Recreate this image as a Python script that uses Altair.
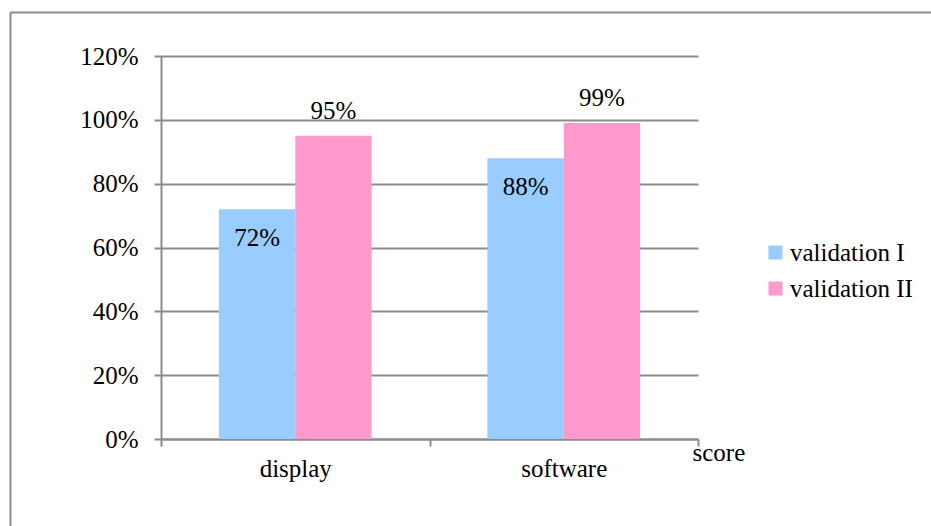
import altair as alt
import pandas as pd

categories = ["display", "display", "software", "software"]
series = ["validation I", "validation II", "validation I", "validation II"]
values = [0.72, 0.95, 0.88, 0.99]
y_ticks = [0, 0.2, 0.4, 0.6, 0.8, 1.0, 1.2]
series_order = ["validation I", "validation II"]
series_colors = ["#99CCFF", "#FF99CC"]

df = pd.DataFrame({"category": categories, "series": series, "value": values})

FONT = "Liberation Serif"
FS = 25
GRAY = "#8c8c8c"

x_enc = alt.X(
    "category:N",
    sort=["display", "software"],
    scale=alt.Scale(paddingInner=0, paddingOuter=0),
    axis=alt.Axis(
        title="score", labelAngle=0, tickBand="extent", tickSize=7, tickColor=GRAY,
        tickWidth=2, domainColor=GRAY, domainWidth=2, labelPadding=10,
        labelFont=FONT, labelFontSize=FS, labelColor="black",
        titleFont=FONT, titleFontSize=FS, titleFontWeight="normal", titleColor="black",
        titleX=531, titleY=21, titleAlign="left", titleBaseline="alphabetic",
        titleAnchor="start",
    ),
)
xo_scale = alt.Scale(paddingInner=0, paddingOuter=0.758)
y_enc = alt.Y(
    "value:Q",
    scale=alt.Scale(domain=[0, 1.2], nice=False, zero=True),
    axis=alt.Axis(
        title=None, values=y_ticks, format=".0%", grid=True, gridColor=GRAY,
        gridWidth=2, tickColor=GRAY, tickWidth=2, tickSize=7, domainColor=GRAY,
        domainWidth=2, labelPadding=16, labelFont=FONT, labelFontSize=FS,
        labelColor="black",
    ),
)

bars = alt.Chart(df).mark_bar().encode(
    x=x_enc,
    xOffset=alt.XOffset("series:N", sort=series_order, scale=xo_scale),
    y=y_enc,
    color=alt.Color(
        "series:N",
        scale=alt.Scale(domain=series_order, range=series_colors),
        legend=alt.Legend(
            title=None, orient="none", legendX=602, legendY=184,
            symbolType="square", symbolSize=196, symbolStrokeWidth=0,
            labelFont=FONT, labelFontSize=FS, labelColor="black",
            labelOffset=2, rowPadding=10, padding=0,
        ),
    ),
)

lab1 = alt.Chart(df).transform_filter(alt.datum.series == "validation I").mark_text(
    font=FONT, fontSize=FS, baseline="alphabetic", dy=37, color="black"
).encode(
    x=alt.X("category:N", sort=["display", "software"]),
    xOffset=alt.XOffset("series:N", sort=series_order, scale=xo_scale),
    y="value:Q",
    text=alt.Text("value:Q", format=".0%"),
)
lab2 = alt.Chart(df).transform_filter(alt.datum.series == "validation II").mark_text(
    font=FONT, fontSize=FS, baseline="alphabetic", dy=-17, color="black"
).encode(
    x=alt.X("category:N", sort=["display", "software"]),
    xOffset=alt.XOffset("series:N", sort=series_order, scale=xo_scale),
    y="value:Q",
    text=alt.Text("value:Q", format=".0%"),
)

one = pd.DataFrame({"a": [0]})
border_left = alt.Chart(one).mark_rule(color=GRAY, strokeWidth=2).encode(
    x=alt.value(-150.5), y=alt.value(-43.5), y2=alt.value(470)
)
border_top = alt.Chart(one).mark_rule(color=GRAY, strokeWidth=2).encode(
    x=alt.value(-150.5), x2=alt.value(770), y=alt.value(-43.5)
)

chart = alt.layer(bars, lab1, lab2, border_left, border_top).properties(
    width=537,
    height=383,
    padding={"left": 161, "top": 56, "right": 233, "bottom": 87},
    autosize=alt.AutoSizeParams(type="none"),
    background="white",
).configure(font=FONT).configure_view(strokeWidth=0).configure_text(
    font=FONT
).configure_legend(labelFont=FONT)

chart.save("out.html", embed_options={"renderer": "svg", "actions": False})
